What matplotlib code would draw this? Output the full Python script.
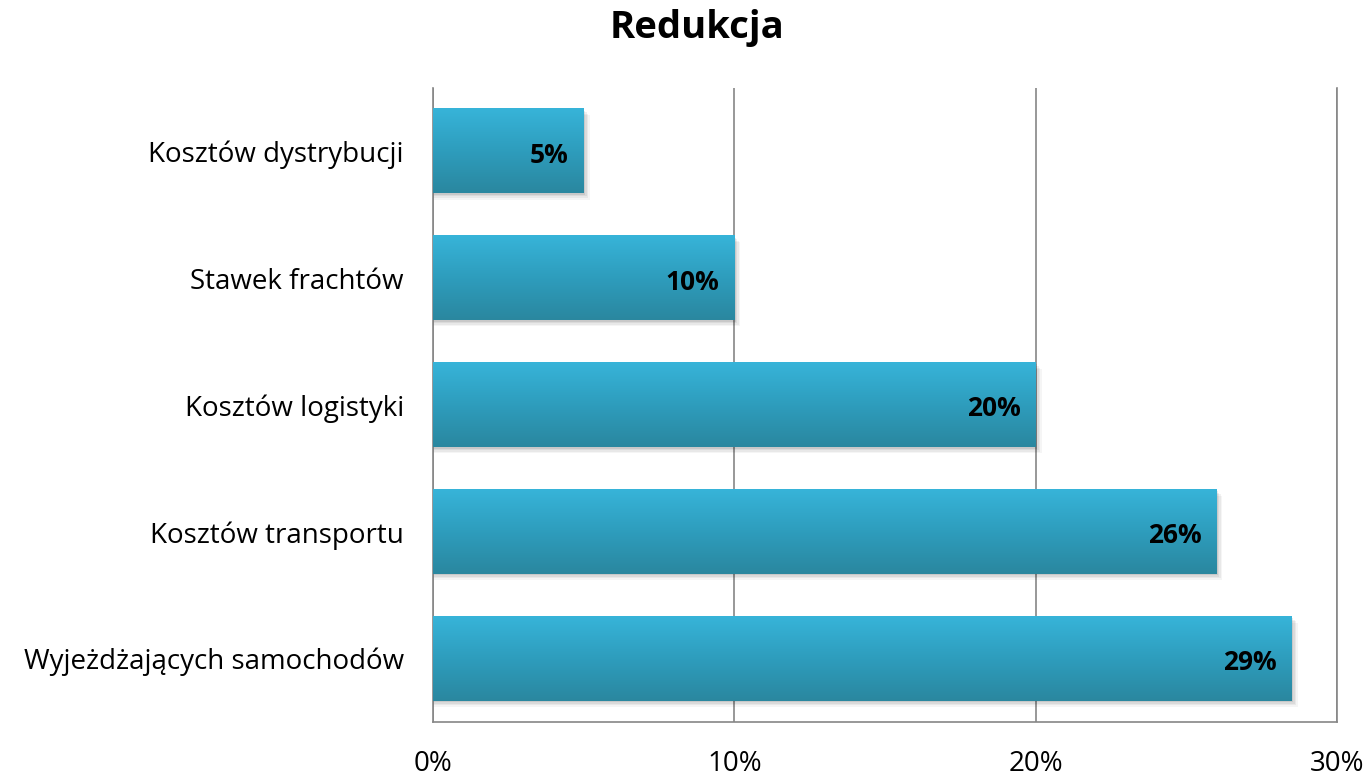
import matplotlib
matplotlib.use('Agg')
import matplotlib.pyplot as plt
import numpy as np
from matplotlib.colors import LinearSegmentedColormap
from matplotlib.patches import Rectangle

plt.rcParams['font.family'] = ['Open Sans', 'DejaVu Sans']

categories = ['Kosztów dystrybucji', 'Stawek frachtów', 'Kosztów logistyki',
              'Kosztów transportu', 'Wyjeżdżających samochodów']
values = [0.05, 0.10, 0.20, 0.26, 0.285]
value_labels = ['5%', '10%', '20%', '26%', '29%']
x_ticks = [0.0, 0.1, 0.2, 0.3]
x_tick_labels = ['0%', '10%', '20%', '30%']

fig = plt.figure(figsize=(13.71, 7.80), dpi=100)
ax = fig.add_axes([433 / 1371, 1 - 722 / 780, (1337 - 433) / 1371, (722 - 88) / 780])

# gradient: light on top, darker at bottom
cmap = LinearSegmentedColormap.from_list('bar', ['#2a879f', '#2e9dbd', '#37b4d9'])
grad = np.linspace(0, 1, 256).reshape(-1, 1)

h = 0.663
ypos = np.arange(len(categories))[::-1]
for y, v, lab in zip(ypos, values, value_labels):
    # soft shadow
    for k, a in enumerate([0.04, 0.05, 0.06, 0.08]):
        off = 0.0005 * (4 - k)
        ax.add_patch(Rectangle((0, y - h / 2 - 0.012 * (4 - k)), v + off, h,
                               color='black', alpha=a, lw=0, zorder=2))
    ax.imshow(grad, cmap=cmap, aspect='auto', origin='lower',
              extent=(0, v, y - h / 2, y + h / 2), zorder=3)
    ax.text(v - 0.005, y - 0.03, lab, ha='right', va='center', fontsize=19,
            fontweight='bold', color='black', zorder=4)

ax.set_xlim(0, 0.3)
ax.set_ylim(-0.5, len(categories) - 0.5)
ax.set_yticks(ypos)
ax.set_yticklabels(categories, fontsize=20)
ax.set_xticks(x_ticks)
ax.set_xticklabels(x_tick_labels, fontsize=20)
ax.tick_params(axis='both', length=0)
ax.tick_params(axis='x', pad=20)
ax.tick_params(axis='y', pad=21)
ax.grid(axis='x', color='#868686', lw=1.2, zorder=1)
for s in ['left', 'bottom', 'right']:
    ax.spines[s].set_color('#868686')
    ax.spines[s].set_linewidth(1.2)
ax.spines['top'].set_visible(False)

fig.text(697 / 1371, 1 - 28 / 780, 'Redukcja', fontsize=27.5, fontweight='bold',
         ha='center', va='center')

fig.savefig('out.png', dpi=100)
